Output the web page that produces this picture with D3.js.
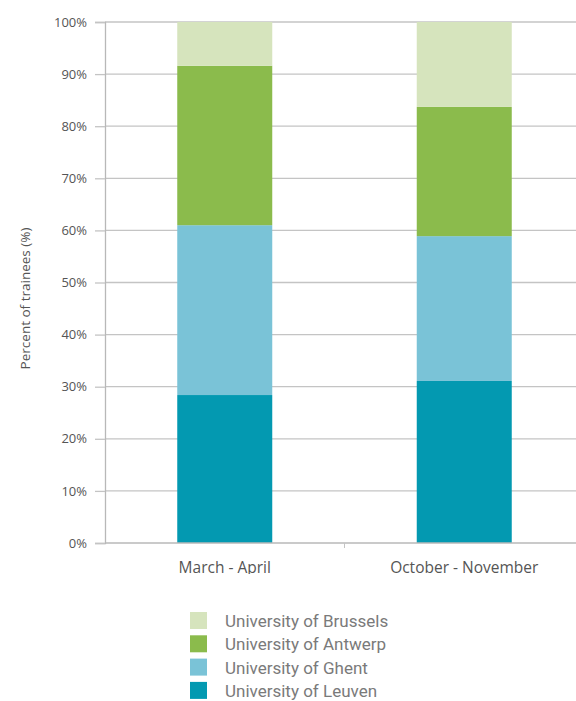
<!DOCTYPE html>
<html>
<head>
<meta charset="utf-8">
<script src="https://cdn.jsdelivr.net/npm/d3@7"></script>
<style>
  body { margin: 0; background: #fff; }
  svg { display: block; }
</style>
</head>
<body>
<svg id="chart" width="576" height="701"></svg>
<script>
const CATEGORIES = ['March - April', 'October - November'];
const SERIES = ['University of Leuven', 'University of Ghent', 'University of Antwerp', 'University of Brussels'];
const LEUVEN = [28.4, 31.1];
const GHENT = [32.6, 27.8];
const ANTWERP = [30.6, 24.8];
const BRUSSELS = [8.4, 16.3];
const Y_TICKS = [0, 10, 20, 30, 40, 50, 60, 70, 80, 90, 100];

const COLORS = {
  'University of Leuven': '#0399b1',
  'University of Ghent': '#7ac3d7',
  'University of Antwerp': '#8bbb4c',
  'University of Brussels': '#d6e4bd'
};

const rows = CATEGORIES.map((c, i) => ({
  cat: c,
  'University of Leuven': LEUVEN[i],
  'University of Ghent': GHENT[i],
  'University of Antwerp': ANTWERP[i],
  'University of Brussels': BRUSSELS[i]
}));

const svg = d3.select('#chart');
const plotLeft = 105, plotRight = 584, plotTop = 22, plotBottom = 543;

const x = d3.scaleBand().domain(CATEGORIES).range([plotLeft, plotRight]).paddingInner(0).paddingOuter(0);
const y = d3.scaleLinear().domain([0, 100]).range([plotBottom, plotTop]);
const barW = 95;

// gridlines
svg.append('g')
  .selectAll('line')
  .data(Y_TICKS.filter(t => t > 0))
  .enter().append('line')
  .attr('x1', plotLeft).attr('x2', plotRight)
  .attr('y1', d => y(d)).attr('y2', d => y(d))
  .attr('stroke', '#c4c4c4').attr('stroke-width', 1.3);

// stacked bars
const stack = d3.stack().keys(SERIES)(rows);
svg.append('g')
  .selectAll('g')
  .data(stack)
  .enter().append('g')
  .attr('fill', d => COLORS[d.key])
  .selectAll('rect')
  .data(d => d)
  .enter().append('rect')
  .attr('x', d => x(d.data.cat) + (x.bandwidth() - barW) / 2)
  .attr('width', barW)
  .attr('y', d => y(d[1]))
  .attr('height', d => y(d[0]) - y(d[1]));

// y axis
const yAxis = svg.append('g')
  .attr('transform', `translate(${plotLeft},0)`)
  .call(d3.axisLeft(y).tickValues(Y_TICKS).tickFormat(d => d + '%').tickSize(10).tickPadding(8));
yAxis.select('.domain').attr('stroke', '#b8b8b8').attr('stroke-width', 1.3);
yAxis.selectAll('.tick line').attr('stroke', '#c4c4c4').attr('stroke-width', 1.3);
yAxis.selectAll('text')
  .attr('fill', '#555')
  .style('font-family', 'Open Sans, sans-serif')
  .style('font-size', '13px');

// x axis (labels cut off at the bottom like the source image)
svg.append('defs').append('clipPath').attr('id', 'xclip')
  .append('rect').attr('x', -10).attr('y', 0).attr('width', 600).attr('height', 31);

const xAxis = svg.append('g')
  .attr('transform', `translate(0,${plotBottom})`)
  .attr('clip-path', 'url(#xclip)')
  .call(d3.axisBottom(x).tickSize(0).tickPadding(19));
xAxis.select('.domain').remove();
xAxis.selectAll('text')
  .attr('fill', '#555')
  .style('font-family', 'Open Sans, sans-serif')
  .style('font-size', '15.5px');

svg.append('line')
  .attr('x1', plotLeft).attr('x2', plotRight)
  .attr('y1', plotBottom).attr('y2', plotBottom)
  .attr('stroke', '#b8b8b8').attr('stroke-width', 1.3);
svg.append('line')
  .attr('x1', x(CATEGORIES[1])).attr('x2', x(CATEGORIES[1]))
  .attr('y1', plotBottom).attr('y2', plotBottom + 5)
  .attr('stroke', '#c4c4c4');

// y title
svg.append('text')
  .attr('transform', `translate(30,${(plotTop + plotBottom) / 2 + 16}) rotate(-90)`)
  .attr('text-anchor', 'middle')
  .attr('fill', '#555')
  .style('font-family', 'Open Sans, sans-serif')
  .style('font-size', '13.5px')
  .text('Percent of trainees (%)');

// legend
const legendOrder = SERIES.slice().reverse();
const legend = svg.append('g')
  .selectAll('g')
  .data(legendOrder)
  .enter().append('g')
  .attr('transform', (d, i) => `translate(190,${612 + i * 23.3})`);
legend.append('rect')
  .attr('width', 17).attr('height', 17)
  .attr('fill', d => COLORS[d]);
legend.append('text')
  .attr('x', 35).attr('y', 15)
  .attr('fill', '#7a7a7a')
  .style('font-family', 'Roboto, sans-serif')
  .style('font-size', '17px')
  .text(d => d);
</script>
</body>
</html>
